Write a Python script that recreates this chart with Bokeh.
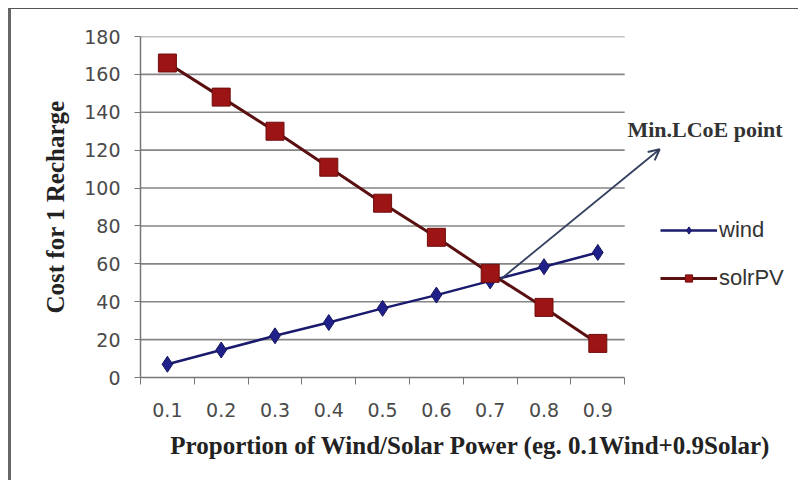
from bokeh.plotting import figure
from bokeh.models import (FixedTicker, Legend, LegendItem, Arrow, OpenHead,
                          Label, Range1d)
from bokeh.embed import file_html
from bokeh.resources import INLINE

categories = ["0.1", "0.2", "0.3", "0.4", "0.5", "0.6", "0.7", "0.8", "0.9"]
wind = [7, 14.5, 22, 29, 36.5, 43.5, 51, 58.5, 66]
solar = [166, 148, 130, 111, 92, 74, 55, 37, 18]
y_ticks = [0, 20, 40, 60, 80, 100, 120, 140, 160, 180]

n = len(categories)
xs = [i + 0.5 for i in range(n)]

p = figure(width=790, height=472, output_backend="svg", toolbar_location=None,
           x_range=Range1d(0, n * 657 / 482), y_range=Range1d(0, 180),
           min_border_left=129, min_border_right=1, min_border_top=27,
           min_border_bottom=104)
p.outline_line_color = None
p.background_fill_color = "white"
p.border_fill_color = "white"
p.styles = {"margin-left": "8px", "margin-top": "8px",
            "border-left": "3px solid #666", "border-top": "1px solid #555"}

serif = "Liberation Serif"
sans = "Liberation Sans"
tick_font = "DejaVu Sans"

# x axis
p.xaxis.bounds = (0, n)
p.xaxis.ticker = FixedTicker(ticks=xs, minor_ticks=list(range(n + 1)))
p.xaxis.major_label_overrides = {x: c for x, c in zip(xs, categories)}
p.xaxis.major_tick_line_color = None
p.xaxis.minor_tick_line_color = "#777"
p.xaxis.minor_tick_in = 0
p.xaxis.minor_tick_out = 7
p.xaxis.axis_line_color = "#777"
p.xaxis.axis_line_width = 1.5
p.xaxis.major_label_standoff = 18
p.xaxis.major_label_text_font = tick_font
p.xaxis.major_label_text_font_size = "19px"
p.xaxis.major_label_text_color = "#4a4a4a"
p.xaxis.axis_label = "Proportion of Wind/Solar Power (eg. 0.1Wind+0.9Solar)"
p.xaxis.axis_label_text_font = serif
p.xaxis.axis_label_text_font_style = "bold"
p.xaxis.axis_label_text_font_size = "25px"
p.xaxis.axis_label_text_color = "#222"
p.xaxis.axis_label_standoff = 12

# y axis
p.yaxis.ticker = FixedTicker(ticks=y_ticks)
p.yaxis.minor_tick_line_color = None
p.yaxis.major_tick_in = 0
p.yaxis.major_tick_out = 6
p.yaxis.major_tick_line_color = "#777"
p.yaxis.axis_line_color = "#777"
p.yaxis.axis_line_width = 1.5
p.yaxis.major_label_standoff = 14
p.yaxis.major_label_text_font = tick_font
p.yaxis.major_label_text_font_size = "19px"
p.yaxis.major_label_text_color = "#4a4a4a"
p.yaxis.axis_label = "Cost for 1 Recharge"
p.yaxis.axis_label_text_font = serif
p.yaxis.axis_label_text_font_style = "bold"
p.yaxis.axis_label_text_font_size = "25px"
p.yaxis.axis_label_text_color = "#222"
p.yaxis.axis_label_standoff = 12

p.xgrid.grid_line_color = None
p.ygrid.grid_line_color = None
p.segment(x0=[0] * len(y_ticks[1:]), x1=[n] * len(y_ticks[1:]),
          y0=y_ticks[1:], y1=y_ticks[1:], line_color="#858585", line_width=1.6)

# series
wl = p.line(xs, wind, line_color="#1a1a6e", line_width=2.5)
wm = p.scatter(xs, wind, marker="diamond", size=16, fill_color="#20208a",
               line_color="#15155e")
sl = p.line(xs, solar, line_color="#5a1010", line_width=3)
sm = p.scatter(xs, solar, marker="square", size=18, fill_color="#9c1414",
               line_color="#6e0e0e")

legend = Legend(items=[LegendItem(label="wind", renderers=[wl, wm]),
                       LegendItem(label="solrPV", renderers=[sl, sm])],
                location=(520, 86), background_fill_alpha=0,
                border_line_color=None, label_text_font=sans,
                label_text_font_size="22px", label_text_color="#333",
                glyph_width=57, glyph_height=18, spacing=22, label_standoff=2)
p.add_layout(legend, "center")

# annotation
p.add_layout(Arrow(x_start=6.7, y_start=52, x_end=9.65, y_end=120.5,
                   line_color="#34405e", line_width=1.8,
                   end=OpenHead(size=11, line_color="#34405e", line_width=2)))
p.add_layout(Label(x=9.05, y=131, text="Min.LCoE point", text_font=serif,
                   text_font_style="bold", text_font_size="22px",
                   text_color="#333", text_baseline="middle"))

open("out.html", "w").write(file_html(p, INLINE))
